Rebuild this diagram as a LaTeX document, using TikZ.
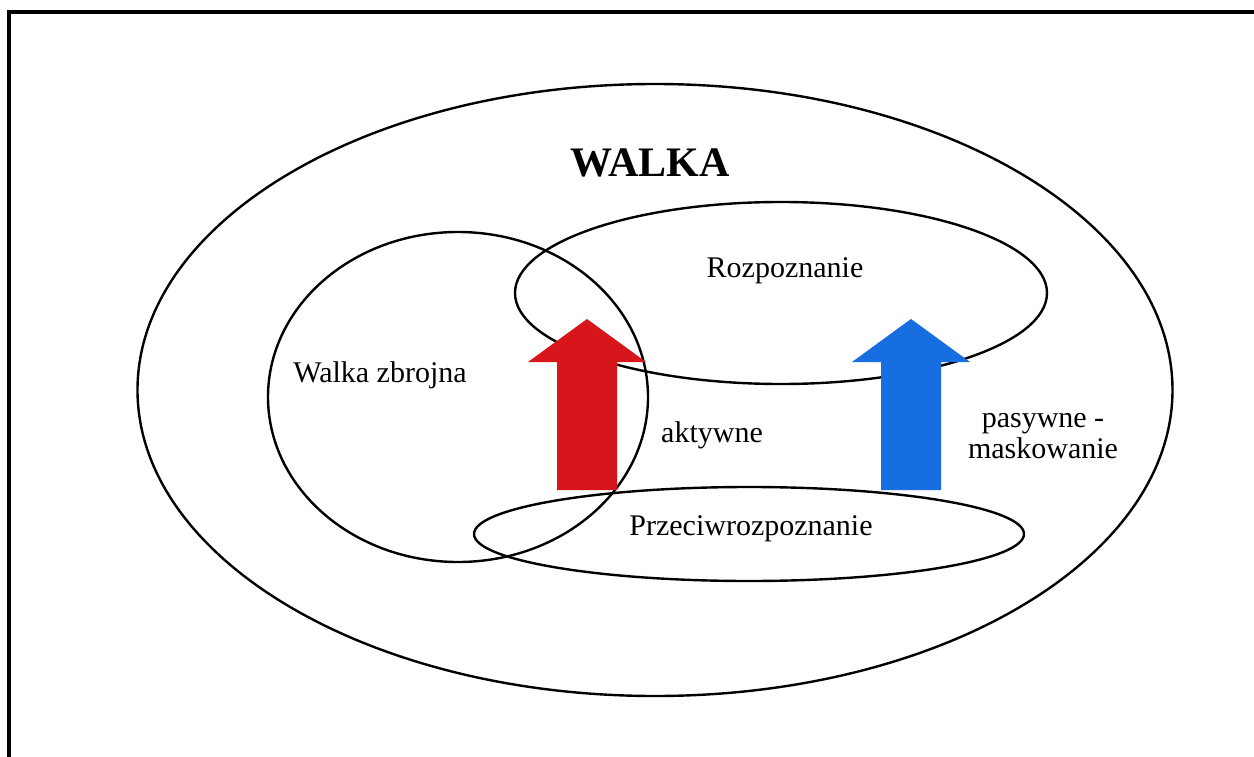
\documentclass[tikz,border=0pt]{standalone}
\usepackage{fontspec}
\setmainfont{Liberation Serif}
\usetikzlibrary{shapes.geometric}
\definecolor{arrowred}{RGB}{214,22,26}
\definecolor{arrowblue}{RGB}{22,110,224}
\def\shaftw{30}
\def\headw{59}

\begin{document}
\begin{tikzpicture}[x=1pt,y=-1pt,line width=2.4pt]
    \tikzstyle{set}=[ellipse,draw=black,inner sep=0pt,outer sep=0pt]
    \tikzstyle{setlabel}=[font=\fontsize{30}{31}\selectfont,align=center,inner sep=0pt]
    \tikzstyle{title}=[font=\fontsize{42}{48}\selectfont\bfseries,inner sep=0pt]

    % Page and frame
    \useasboundingbox (0,0) rectangle (1254,757);
    \clip (0,0) rectangle (1254,757);
    \fill[white] (0,0) rectangle (1254,757);
    \draw[line width=3.4pt] (9,12) rectangle (1290,790);

    % The sets
    \node[set,minimum width=1035pt,minimum height=612pt] (walka) at (655,390) {};
    \node[set,minimum width=380pt,minimum height=330pt] (zbrojna) at (458,397) {};
    \node[set,minimum width=532pt,minimum height=182pt] (rozp) at (781,293) {};
    \node[set,minimum width=550pt,minimum height=94pt] (przeciw) at (749,534) {};

    % Arrows on top of the sets
    \foreach \x/\col in {587/arrowred, 911/arrowblue}
        \fill[\col] (\x-\shaftw,490) -- (\x-\shaftw,362) -- (\x-\headw,362) -- (\x,319)
            -- (\x+\headw,362) -- (\x+\shaftw,362) -- (\x+\shaftw,490) -- cycle;

    % Names of the sets
    \node[title,anchor=base] (t-walka) at (650,177) {WALKA};
    \node[setlabel,anchor=base] (t-rozp) at (785,277) {Rozpoznanie};
    \node[setlabel,anchor=base] (t-zbrojna) at (380,382) {Walka zbrojna};
    \node[setlabel,anchor=base] (t-przeciw) at (751,535) {Przeciwrozpoznanie};
    \node[setlabel,anchor=base] (t-akt) at (712,442) {aktywne};
    \node[setlabel] (t-pas) at (1043,436) {pasywne -\\maskowanie};
\end{tikzpicture}
\end{document}
